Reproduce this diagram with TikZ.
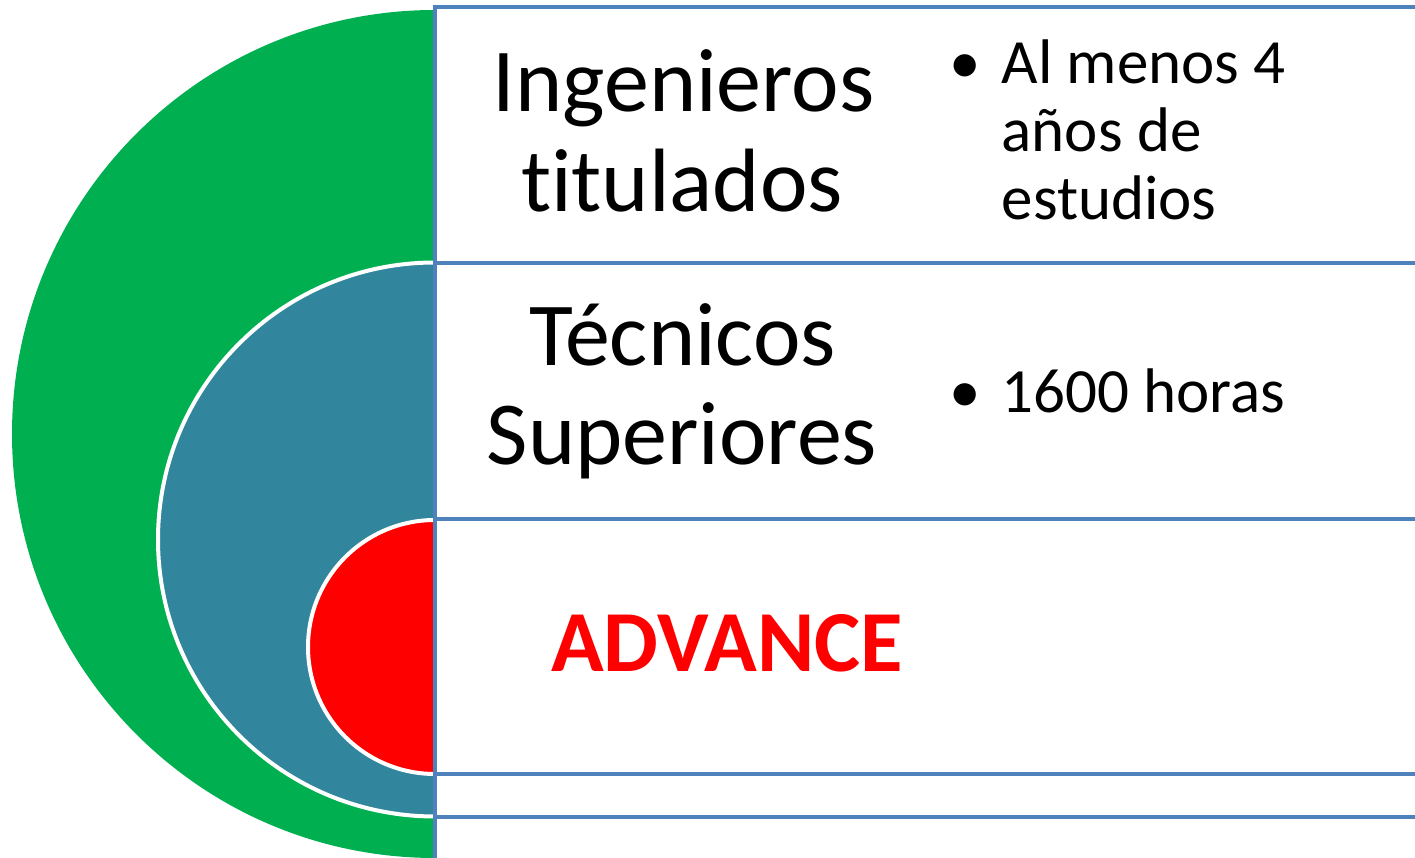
\documentclass[tikz,border=0pt]{standalone}
\usepackage{fontspec}
\setmainfont[Ligatures=NoCommon]{Carlito}
\definecolor{bgreen}{HTML}{00B050}
\definecolor{bteal}{HTML}{31859C}
\definecolor{bred}{HTML}{FF0000}
\definecolor{bblue}{HTML}{4F81BD}
\begin{document}
\begin{tikzpicture}[x=1pt,y=1pt,
  bigtext/.style={inner sep=0pt,anchor=base,font=\fontsize{90}{100}\selectfont},
  bultext/.style={inner sep=0pt,anchor=base west,font=\fontsize{63}{68}\selectfont},
  bulmark/.style={inner sep=0pt,anchor=base,font=\fontsize{63}{68}\selectfont},
  advtext/.style={inner sep=0pt,anchor=base,font=\fontsize{87}{90}\selectfont\bfseries,text=bred},
  sep/.style={draw=bblue,line width=4pt},
  ring/.style={draw=white,line width=4pt}]
\useasboundingbox (0,0) rectangle (1415,858);
% nested half discs
\fill[bgreen] (435,848) arc[start angle=90,end angle=270,x radius=423,y radius=424] -- cycle;
\path[fill=bteal,ring] (435,595.5) arc[start angle=90,end angle=270,radius=277] -- cycle;
\path[fill=bred,ring] (435,338) arc[start angle=90,end angle=270,radius=127] -- cycle;
% separator lines
\draw[sep] (435,851) -- (1415,851);
\draw[sep] (435,595) -- (1415,595);
\draw[sep] (435,339) -- (1415,339);
\draw[sep] (435,84) -- (1415,84);
\draw[sep] (435,41) -- (1415,41);
\draw[sep] (435,853) -- (435,0);
% labels
\node[bigtext] (ing) at (683.5,746.3) {Ingenieros};
\node[bigtext] (tit) at (682,646.3) {titulados};
\node[bigtext] (tec) at (682.5,492) {Técnicos};
\node[bigtext] (sup) at (682,393) {Superiores};
\node[advtext] (adv) at (727,186) {ADVANCE};
\node[bulmark] (b1) at (965,774.7) {•};
\node[bultext] (l1) at (1001.5,774.7) {Al menos 4};
\node[bultext] (l2) at (1001.5,706.3) {años de};
\node[bultext] (l3) at (1001.5,638) {estudios};
\node[bulmark] (b2) at (965,445) {•};
\node[bultext] (l4) at (1001.5,445) {1600 horas};
\end{tikzpicture}
\end{document}
